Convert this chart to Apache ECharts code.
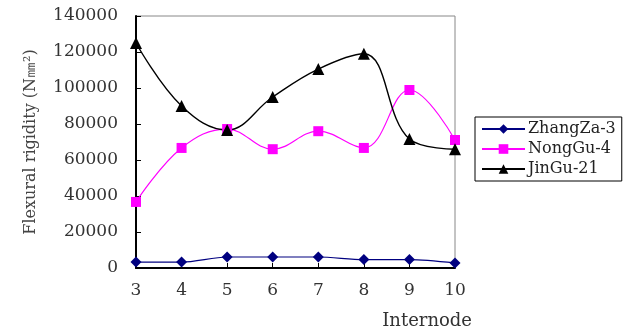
<!DOCTYPE html>
<html><head><meta charset="utf-8">
<script src="https://cdn.jsdelivr.net/npm/echarts@6/dist/echarts.min.js"></script>
<style>html,body{margin:0;padding:0;background:#fff}#c{width:629px;height:334px}</style>
</head><body><div id="c"></div>
<script>
const categories = ['3','4','5','6','7','8','9','10'];
const zhangZa3 = [3300, 3300, 6100, 6100, 6100, 4700, 4700, 2800];
const nongGu4 = [36700, 66700, 77200, 66000, 76000, 66700, 98900, 71100];
const jinGu21 = [125000, 90000, 76700, 95000, 110500, 119000, 71700, 66000];
const yTicks = [0, 20000, 40000, 60000, 80000, 100000, 120000, 140000];

const FONT = '"DejaVu Serif", "Liberation Serif", serif';
const chart = echarts.init(document.getElementById('c'));
chart.setOption({
  animation: false,
  backgroundColor: '#fff',
  grid: { left: 136, right: 174, top: 16, bottom: 66, show: true, borderColor: '#888', borderWidth: 1 },
  legend: {
    orient: 'vertical', left: 475, top: 117, width: 149,
    padding: [4, 6, 4, 6], itemGap: 4, itemWidth: 43, itemHeight: 12,
    borderColor: '#000', borderWidth: 1, backgroundColor: '#fff',
    textStyle: { fontFamily: FONT, fontSize: 16, color: '#222', padding: [0,0,0,-2] },
    data: ['ZhangZa-3', 'NongGu-4', 'JinGu-21']
  },
  xAxis: {
    type: 'category', data: categories, boundaryGap: false,
    name: 'Internode', nameLocation: 'end', nameGap: 0,
    nameTextStyle: { fontFamily: FONT, fontSize: 18, color: '#333', align: 'right', verticalAlign: 'top', padding: [44, -17, 0, 0] },
    axisLine: { lineStyle: { color: '#000', width: 2 } },
    axisTick: { inside: true, length: 5, alignWithLabel: true, lineStyle: { color: '#000' } },
    axisLabel: { fontFamily: FONT, fontSize: 17, color: '#333', margin: 14 },
    splitLine: { show: false }
  },
  yAxis: {
    type: 'value', min: yTicks[0], max: yTicks[yTicks.length - 1], interval: 20000,
    name: 'Flexural rigidity (N\u339C\u00B2)', nameLocation: 'middle', nameGap: 97, nameRotate: 90,
    nameTextStyle: { fontFamily: FONT, fontSize: 16, color: '#444' },
    axisLine: { show: true, lineStyle: { color: '#000', width: 2 } },
    axisTick: { show: true, inside: true, length: 5, lineStyle: { color: '#000' } },
    axisLabel: { fontFamily: FONT, fontSize: 17, color: '#333', margin: 18, formatter: v => String(v) },
    splitLine: { show: false }
  },
  series: [
    { name: 'ZhangZa-3', type: 'line', data: zhangZa3, smooth: 0.3, symbol: 'diamond', symbolSize: 11,
      itemStyle: { color: '#000080' }, lineStyle: { color: '#000080', width: 1.2 } },
    { name: 'NongGu-4', type: 'line', data: nongGu4, smooth: 0.4, symbol: 'rect', symbolSize: 10,
      itemStyle: { color: '#FF00FF' }, lineStyle: { color: '#FF00FF', width: 1.2 } },
    { name: 'JinGu-21', type: 'line', data: jinGu21, smooth: 0.4, symbol: 'triangle', symbolSize: 12,
      itemStyle: { color: '#000' }, lineStyle: { color: '#000', width: 1.4 } }
  ]
});
</script></body></html>
